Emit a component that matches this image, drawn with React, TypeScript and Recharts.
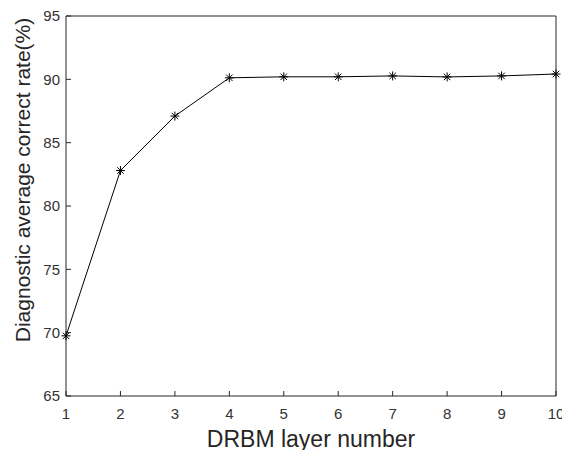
import { LineChart, Line, XAxis, YAxis, Label } from 'recharts';

const layers = [1, 2, 3, 4, 5, 6, 7, 8, 9, 10];
const correctRate = [69.75, 82.8, 87.1, 90.12, 90.2, 90.2, 90.27, 90.19, 90.27, 90.42];
const xTicks = [1, 2, 3, 4, 5, 6, 7, 8, 9, 10];
const yTicks = [65, 70, 75, 80, 85, 90, 95];

const data = layers.map((x, i) => ({ x, y: correctRate[i] }));

const FONT = '"Liberation Sans", Arial, sans-serif';
const AXIS = '#262626';
const tickStyle = { fontSize: 15, fill: '#333', fontFamily: FONT };

function Star({ cx, cy }: { cx?: number; cy?: number }) {
  if (cx == null || cy == null) return null;
  const r = 4.5;
  const d = r * 0.72;
  return (
    <g stroke="#000" strokeWidth={1}>
      <line x1={cx - r} y1={cy} x2={cx + r} y2={cy} />
      <line x1={cx} y1={cy - r} x2={cx} y2={cy + r} />
      <line x1={cx - d} y1={cy - d} x2={cx + d} y2={cy + d} />
      <line x1={cx - d} y1={cy + d} x2={cx + d} y2={cy - d} />
    </g>
  );
}

export default function App() {
  return (
    <div style={{ position: 'absolute', left: 0, top: 0, background: '#fff' }}>
      <LineChart width={562} height={450} data={data} margin={{ top: 15, right: 5, left: 0, bottom: 0 }}>
        <XAxis
          xAxisId="b" dataKey="x" type="number" domain={[1, 10]} ticks={xTicks} interval={0}
          height={54} tickSize={-5} tickMargin={17} tick={tickStyle}
          stroke={AXIS} axisLine={{ stroke: AXIS }} tickLine={{ stroke: AXIS }}
        >
          <Label
            content={() => (
              <text x={311} y={447} textAnchor="middle" fontSize={23} fontFamily={FONT} fill="#262626">
                DRBM layer number
              </text>
            )}
          />
        </XAxis>
        <XAxis
          xAxisId="t" orientation="top" dataKey="x" type="number" domain={[1, 10]} ticks={xTicks} interval={0}
          height={1} tickSize={-5} tick={false} stroke={AXIS} axisLine={{ stroke: AXIS }} tickLine={{ stroke: AXIS }}
        />
        <YAxis
          yAxisId="l" type="number" domain={[65, 95]} ticks={yTicks} interval={0}
          width={66} tickSize={-5} tickMargin={11} tick={tickStyle}
          stroke={AXIS} axisLine={{ stroke: AXIS }} tickLine={{ stroke: AXIS }}
        >
          <Label
            content={() => (
              <text
                x={30} y={180} transform="rotate(-90 30 180)" textAnchor="middle"
                fontSize={21} fontFamily={FONT} fill="#262626"
              >
                Diagnostic average correct rate(%)
              </text>
            )}
          />
        </YAxis>
        <YAxis
          yAxisId="r" orientation="right" type="number" domain={[65, 95]} ticks={yTicks} interval={0}
          width={1} tickSize={-5} tick={false} stroke={AXIS} axisLine={{ stroke: AXIS }} tickLine={{ stroke: AXIS }}
        />
        <Line
          xAxisId="b" yAxisId="l" dataKey="y" type="linear" stroke="#000" strokeWidth={1}
          dot={<Star />} activeDot={false} isAnimationActive={false}
        />
      </LineChart>
    </div>
  );
}
